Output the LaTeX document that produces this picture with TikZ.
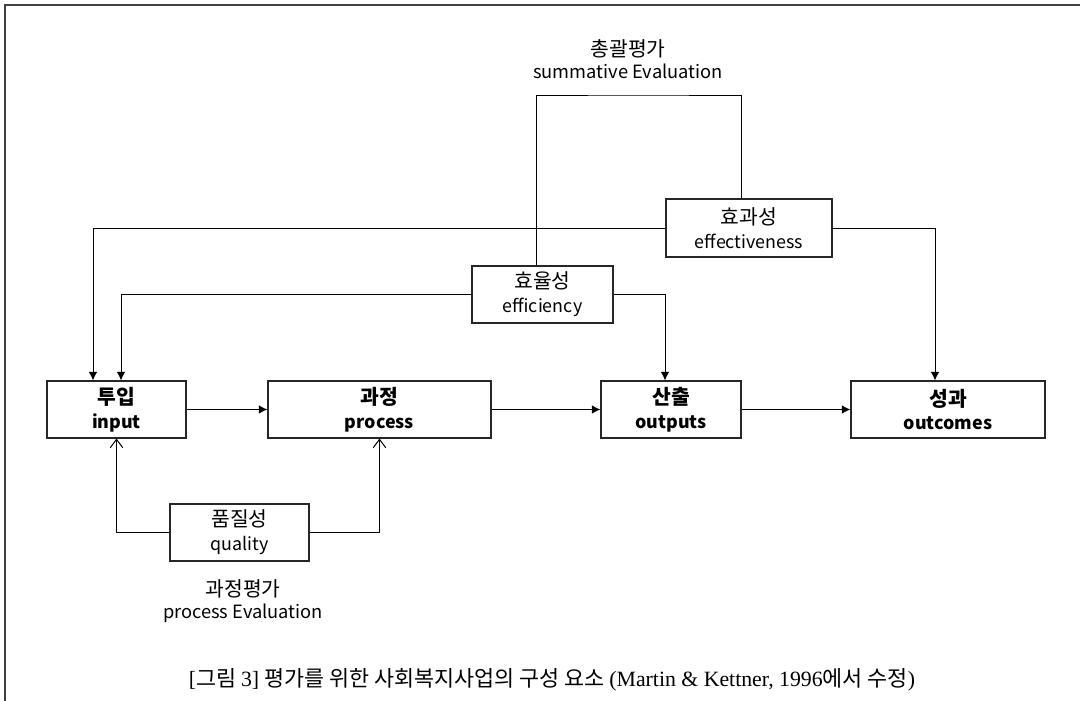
\documentclass[tikz,border=0pt]{standalone}
\usepackage{fontspec}
\setmainfont{Noto Sans CJK KR}
\newfontfamily\latserif{Liberation Serif}
\usepackage{tikz}
\usetikzlibrary{arrows.meta,calc,positioning}

\newcommand{\lat}[1]{{\latserif #1}}
\newcommand{\kor}[1]{{\fontsize{14.5}{17}\selectfont #1}}

\begin{document}
\begin{tikzpicture}[x=0.025cm,y=-0.025cm,
    box/.style={draw=black!85,line width=0.8pt,align=center,inner sep=0pt,
        font=\fontsize{12.7}{17}\selectfont},
    mainbox/.style={box,minimum height=1.425cm,font=\fontsize{12.7}{17}\selectfont\bfseries},
    flow/.style={-{Latex[length=6pt,width=6pt]},line width=0.7pt},
    feedback/.style={-{Straight Barb[length=6pt,width=9pt]},line width=0.7pt},
    note/.style={align=center,font=\fontsize{13}{16}\selectfont}]
    \useasboundingbox (0,0) rectangle (1080,701);
    \draw[line width=1.3pt,black!75] (1080,5) -- (5,5) -- (5,701);

    % main chain
    \node[mainbox,minimum width=3.475cm] (inp) at (116.5,409.5) {\kor{투입}\\input};
    \node[mainbox,minimum width=5.575cm] (proc) at (379.5,409.5) {\kor{과정}\\process};
    \node[mainbox,minimum width=3.5cm] (outp) at (671,409.5) {\kor{산출}\\outputs};
    \node[mainbox,minimum width=4.85cm] (outc) at (948,409.5) {\kor{성과}\\outcomes};

    \draw[flow] (inp) -- (proc);
    \draw[flow] (proc) -- (outp);
    \draw[flow] (outp) -- (outc);

    % evaluation boxes
    \node[box,minimum width=3.475cm,minimum height=1.425cm] (qual) at (239.5,532.5) {\kor{품질성}\\quality};
    \node[box,minimum width=3.525cm,minimum height=1.425cm] (effic) at (542.5,294.5) {\kor{효율성}\\efficiency};
    \node[box,minimum width=4.15cm,minimum height=1.45cm] (effect) at (749,228) {\kor{효과성}\\effectiveness};

    \draw[feedback] (qual.west) -| (inp.south);
    \draw[feedback] (qual.east) -| (proc.south);

    \draw[flow] (effic.west) -| ($(inp.north)+(4.5,0)$);
    \draw[flow] (effic.east) -| ($(outp.north)+(-6,0)$);
    \draw[flow] (effect.west) -| ($(inp.north)+(-23.5,0)$);
    \draw[flow] (effect.east) -| ($(outc.north)+(-13,0)$);

    % summative loop
    \coordinate (sumtop) at (638,95);
    \draw[line width=0.7pt] ($(effic.north)+(-6.5,0)$) |- (sumtop) -| ($(effect.north)+(-8,0)$);

    \node[note] (summ) at (628,59) {\kor{총괄평가}\\summative Evaluation};
    \node[note] (procev) at (243,601) {\kor{과정평가}\\process Evaluation};

    \node[font=\fontsize{15.5}{17}\selectfont] (caption) at (552,680)
        {\lat{[}그림 \lat{3]} 평가를 위한 사회복지사업의 구성 요소 \lat{(Martin \& Kettner, 1996}에서 수정\lat{)}};
\end{tikzpicture}
\end{document}
